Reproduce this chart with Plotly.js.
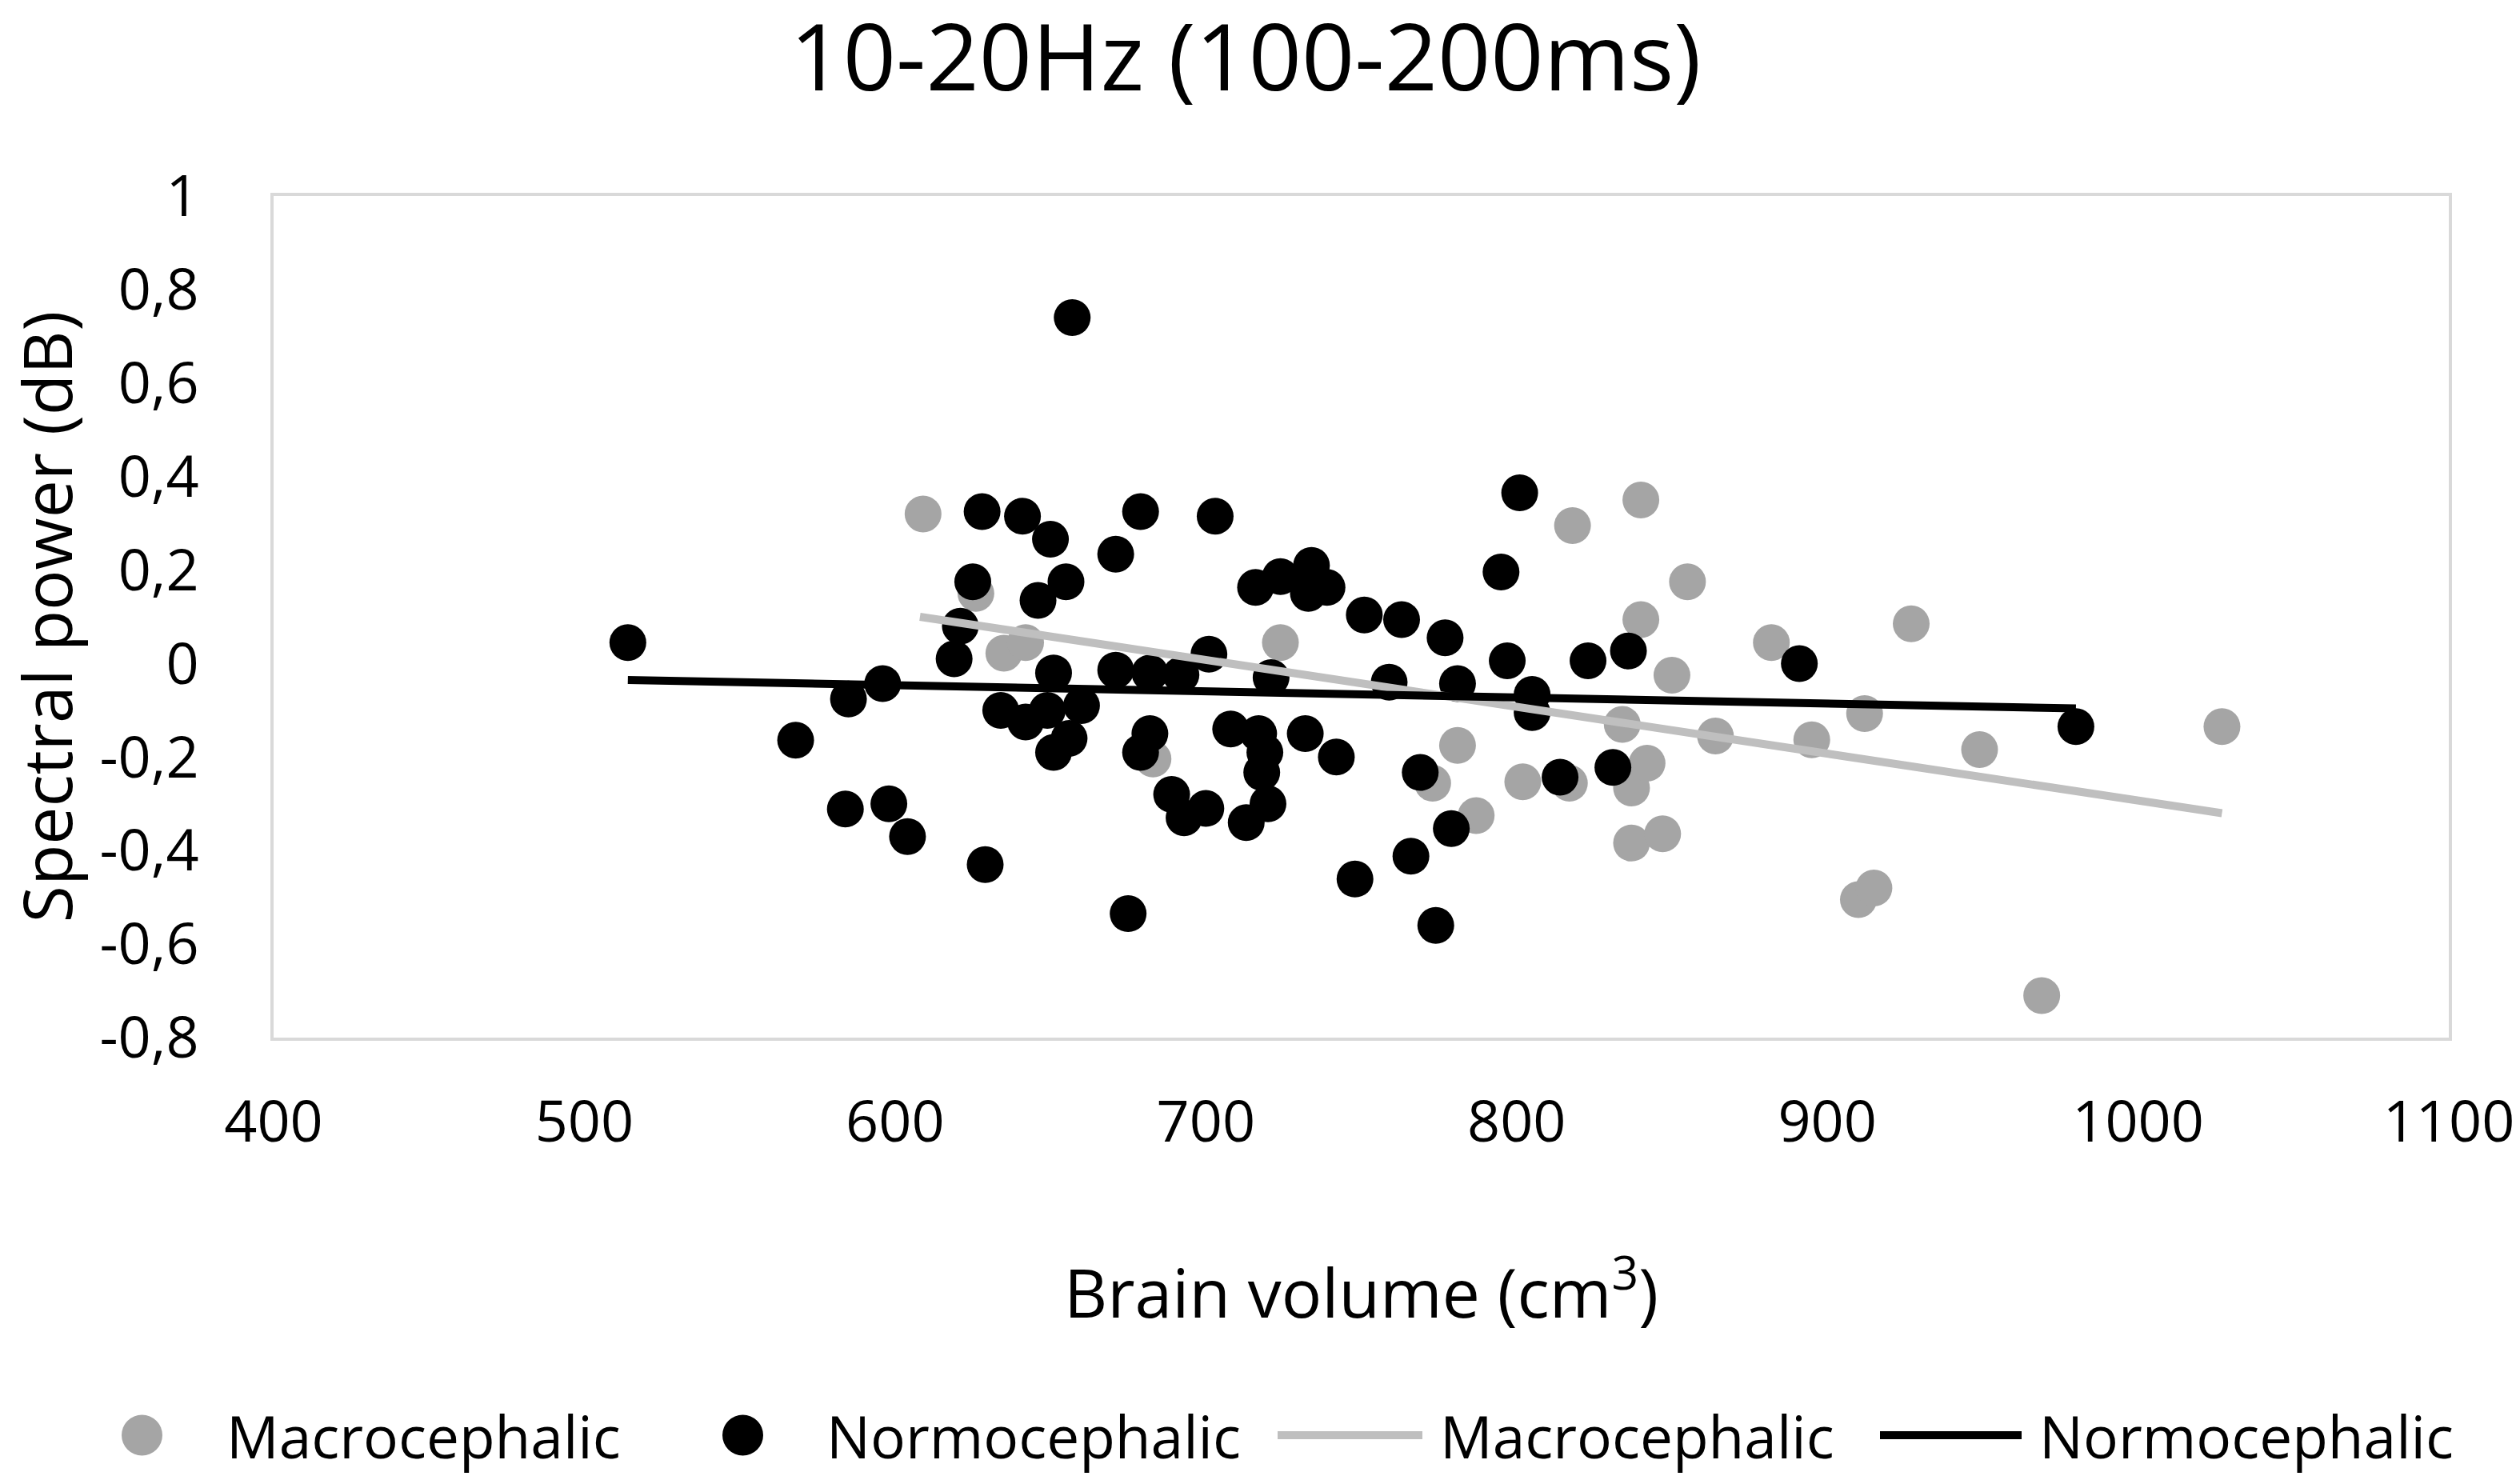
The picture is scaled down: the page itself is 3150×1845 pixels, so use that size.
<!DOCTYPE html>
<html>
<head>
<meta charset="utf-8">
<script src="https://cdn.plot.ly/plotly-3.0.1.min.js"></script>
<style>
  html, body { margin: 0; padding: 0; background: #fff; }
  #chart { width: 3150px; height: 1845px; }
</style>
</head>
<body>
<div id="chart"></div>
<script>
// brain volume (cm3) and spectral power (dB)
var macroX = [609, 626, 635, 642, 683, 724, 773, 781, 787, 802, 817, 818, 834, 837, 837,
              840, 840, 842, 847, 850, 855, 864, 882, 895, 910, 912, 915, 927, 949, 969, 1027];
var macroY = [0.32, 0.15, 0.022, 0.045, -0.204, 0.045, -0.256, -0.175, -0.325, -0.253, -0.256, 0.295, -0.13, -0.266, -0.384,
              0.35, 0.094, -0.213, -0.364, -0.025, 0.175, -0.155, 0.045, -0.163, -0.505, -0.107, -0.48, 0.085, -0.184, -0.71, -0.135];

var normoX = [514, 568, 584, 585, 596, 598, 604, 619, 621, 625, 628, 629, 634, 641, 642, 646, 649, 650, 651, 651,
              655, 656, 657, 660, 671, 671, 675, 679, 679, 682, 682, 689, 692, 693, 700, 701, 703, 708, 713, 716,
              717, 719, 718, 720, 721, 724, 732, 733, 734, 739, 742, 748, 751, 759, 763, 766, 769, 774, 777, 779,
              781, 795, 797, 801, 805, 805, 814, 823, 831, 836, 891, 980];
var normoY = [0.045, -0.164, -0.311, -0.076, -0.043, -0.30, -0.37, 0.01, 0.08, 0.175, 0.325, -0.43, -0.10, 0.315, -0.125, 0.135, -0.10, 0.266, -0.02, -0.19,
              0.175, -0.16, 0.74, -0.09, 0.234, -0.014, -0.535, 0.325, -0.19, -0.02, -0.15, -0.28, -0.024, -0.33, -0.31, 0.02, 0.315, -0.14, -0.34, 0.163,
              -0.15, -0.19, -0.233, -0.30, -0.03, 0.186, -0.15, 0.15, 0.21, 0.163, -0.20, -0.461, 0.104, -0.04, 0.094, -0.412, -0.233, -0.56, 0.055, -0.353,
              -0.043, 0.196, 0.006, 0.365, -0.066, -0.105, -0.243, 0.006, -0.222, 0.027, 0.0, -0.135];

// linear trendlines as drawn
var macroTrendX = [608, 1027];
var macroTrendY = [0.10, -0.32];
var normoTrendX = [514, 980];
var normoTrendY = [-0.035, -0.096];

var yTickVals = [1, 0.8, 0.6, 0.4, 0.2, 0, -0.2, -0.4, -0.6, -0.8];
var yTickText = ['1', '0,8', '0,6', '0,4', '0,2', '0', '-0,2', '-0,4', '-0,6', '-0,8'];
var xTickVals = [400, 500, 600, 700, 800, 900, 1000, 1100];

var legendNames = ['Macrocephalic', 'Normocephalic', 'Macrocephalic', 'Normocephalic'];
var legendKinds = ['marker', 'marker', 'line', 'line'];

var W = 3150, H = 1845;
var ml = 342, mr = 89, mt = 245, mb = 548;
var plotW = W - ml - mr, plotH = H - mt - mb;
var FONT = '"Open Sans", "Liberation Sans", sans-serif';

var macroColor = '#a5a5a5';
var normoColor = '#000000';
var macroLine = '#bfbfbf';
var normoLine = '#000000';
var legendColors = [macroColor, normoColor, macroLine, normoLine];

// legend geometry in page pixels
var legSymStart = [152, 903, 1597, 2350];
var legSymEnd = [203, 954, 1778, 2527];
var legTextX = [281, 1031, 1798, 2547];
var legY = 1794;

function px(xp) { return (xp - ml) / plotW; }
function py(yp) { return (H - mb - yp) / plotH; }

var data = [
  {
    x: macroX, y: macroY, type: 'scatter', mode: 'markers', name: 'Macrocephalic',
    marker: {color: macroColor, size: 46, line: {width: 0}}
  },
  {
    x: normoX, y: normoY, type: 'scatter', mode: 'markers', name: 'Normocephalic',
    marker: {color: normoColor, size: 46, line: {width: 0}}
  },
  {
    x: macroTrendX, y: macroTrendY, type: 'scatter', mode: 'lines', name: 'Macrocephalic',
    line: {color: macroLine, width: 10}
  },
  {
    x: normoTrendX, y: normoTrendY, type: 'scatter', mode: 'lines', name: 'Normocephalic',
    line: {color: normoLine, width: 10}
  }
];

var shapes = [];
var annotations = [];
for (var i = 0; i < legendNames.length; i++) {
  if (legendKinds[i] === 'marker') {
    var r = (legSymEnd[i] - legSymStart[i]) / 2;
    shapes.push({
      type: 'circle', xref: 'paper', yref: 'paper',
      x0: px(legSymStart[i]), x1: px(legSymEnd[i]),
      y0: py(legY + r), y1: py(legY - r),
      fillcolor: legendColors[i], line: {width: 0}
    });
  } else {
    shapes.push({
      type: 'line', xref: 'paper', yref: 'paper',
      x0: px(legSymStart[i]), x1: px(legSymEnd[i]),
      y0: py(legY), y1: py(legY),
      line: {color: legendColors[i], width: 10}
    });
  }
  annotations.push({
    text: legendNames[i], xref: 'paper', yref: 'paper',
    x: px(legTextX[i]), y: py(legY), xanchor: 'left', yanchor: 'middle',
    showarrow: false, font: {family: FONT, size: 73, color: '#000'}
  });
}

var layout = {
  width: W, height: H,
  margin: {l: ml, r: mr, t: mt, b: mb, pad: 0},
  paper_bgcolor: '#fff', plot_bgcolor: '#fff',
  font: {family: FONT, size: 72, color: '#000'},
  showlegend: false,
  title: {
    text: '10-20Hz (100-200ms)',
    font: {family: FONT, size: 116, color: '#000'},
    xref: 'container', x: 1557 / W, xanchor: 'center',
    yref: 'container', y: 1 - 72 / H, yanchor: 'middle'
  },
  xaxis: {
    range: [400, 1100], tickvals: xTickVals,
    showgrid: false, zeroline: false,
    showline: true, mirror: true, linecolor: '#d9d9d9', linewidth: 4,
    ticks: '', ticklabelstandoff: 40,
    tickfont: {family: FONT, size: 72, color: '#000'},
    title: {text: 'Brain volume (cm<sup>3</sup>)', standoff: 142,
            font: {family: FONT, size: 84, color: '#000'}}
  },
  yaxis: {
    range: [-0.8, 1], tickvals: yTickVals, ticktext: yTickText,
    showgrid: false, zeroline: false,
    showline: true, mirror: true, linecolor: '#d9d9d9', linewidth: 4,
    ticks: '', ticklabelstandoff: 75,
    tickfont: {family: FONT, size: 72, color: '#000'},
    title: {text: 'Spectral power (dB)', standoff: 44,
            font: {family: FONT, size: 84, color: '#000'}}
  },
  shapes: shapes,
  annotations: annotations
};

Plotly.newPlot('chart', data, layout, {displayModeBar: false, staticPlot: true});
</script>
</body>
</html>
